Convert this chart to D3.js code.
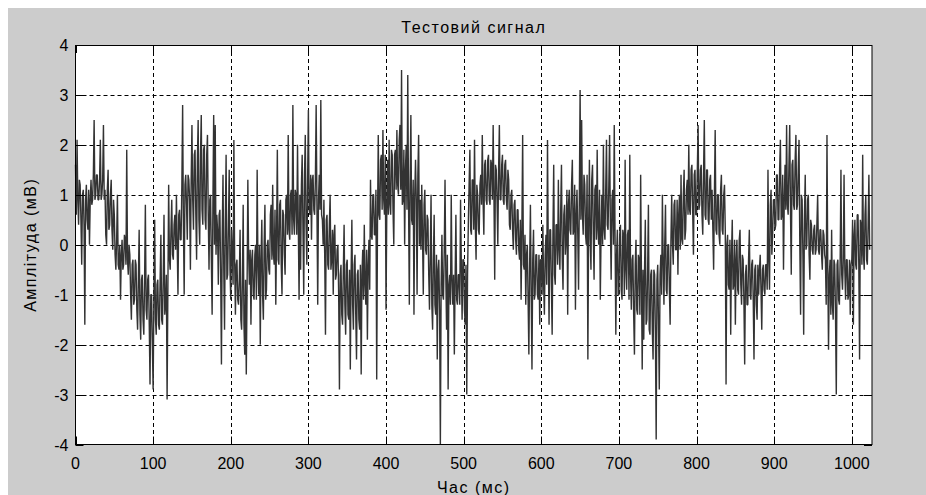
<!DOCTYPE html>
<html>
<head>
<meta charset="utf-8">
<script src="https://cdn.jsdelivr.net/npm/d3@7/dist/d3.min.js"></script>
<style>
  html, body { margin: 0; padding: 0; background: #ffffff; }
  svg { display: block; }
  text { font-family: "Liberation Sans", Arial, sans-serif; fill: #000; }
</style>
</head>
<body>
<div id="chart"></div>
<script>
// ---- data ----
const chartTitle = "Тестовий сигнал";
const xLabel = "Час (мс)";
const yLabel = "Амплітуда (мВ)";
const xTicks = [0, 100, 200, 300, 400, 500, 600, 700, 800, 900, 1000];
const yTicks = [-4, -3, -2, -1, 0, 1, 2, 3, 4];
const sampleStepMs = 1;
// amplitude (mV), one value per ms, starting at 0 ms (20 values per row)
const amplitude = [
  1.6, 0.6, 2.1, 0.9, 0.4, 1.3, 1.2, 0.5, -0.4, 1.0, 1.1, 0.4, -1.6, 0.9, 1.2, 0.5, 0.3, 1.1, 0.0, 0.9,
  1.3, 0.8, 0.9, 1.4, 2.5, 0.9, 1.0, 1.4, 1.4, 0.9, 0.9, 1.3, 2.1, 0.9, 1.0, 1.3, 2.4, 0.9, 1.1, 0.2,
  0.0, 1.1, 1.5, 0.3, 0.4, 1.0, 1.3, 0.3, -0.1, 0.9, 0.6, -0.2, -0.5, 0.1, 1.0, -0.4, -0.5, 0.0, -1.1, -0.2,
  0.1, -0.5, -0.4, 0.2, 0.1, -0.4, 1.9, -0.3, -0.6, 0.0, -0.2, -1.0, -1.5, -0.4, -0.3, -1.2, -1.1, -0.3, -0.4, -1.3,
  -1.7, -0.7, 0.3, -1.4, -1.9, -0.7, -0.6, -1.5, -1.8, -0.7, 0.8, -1.3, -1.5, -0.7, -0.6, -1.6, -2.8, -1.0, -1.0, -2.0,
  -2.9, -1.0, 0.5, -1.5, -1.8, -0.8, -0.7, -1.6, -1.7, -0.7, 0.2, -1.5, -1.6, -0.7, 0.6, -1.4, -1.2, -0.6, -3.1, -0.9,
  1.2, -0.3, -0.5, 0.3, 0.9, -0.2, -0.3, 0.4, 0.6, -0.1, 1.0, 0.0, -1.0, 0.6, 0.7, 0.1, 0.1, 1.2, 2.8, 0.4,
  -1.0, 1.2, 1.4, 0.8, 0.1, 1.4, 1.3, 0.9, -0.5, 1.3, 2.4, 0.9, 0.3, 1.8, 1.9, 0.6, -0.3, 1.7, 2.5, 0.5,
  0.0, 1.8, 2.6, 0.7, 0.4, 1.9, 2.0, 0.5, 0.3, 1.8, 2.2, 0.6, -0.5, 0.9, 1.0, -0.3, -1.4, 0.8, 2.6, 0.0,
  2.4, -0.2, 0.6, 0.3, -0.8, 0.6, 0.7, -0.6, -2.4, 0.2, 1.4, -0.5, -1.7, 0.5, 1.8, -0.7, -0.6, 0.4, 1.5, -0.5,
  -1.1, 0.3, -0.2, -0.8, 2.1, -0.3, -1.4, -0.4, -0.3, -1.1, -1.2, -0.7, 0.3, -1.5, -1.7, -0.7, 0.8, -1.6, -2.2, -0.7,
  -2.6, -0.9, 1.3, -0.2, -0.8, -0.1, -1.6, -0.3, -0.1, -1.0, -1.1, -0.2, 0.0, -1.1, 1.5, -0.4, -1.0, 0.0, -2.0, -0.3,
  0.5, -1.0, -1.5, 0.0, 0.8, -1.1, -0.9, 0.0, 0.1, -0.5, -0.6, 0.6, 0.8, -0.3, 1.2, -0.2, -0.4, 0.7, -1.2, 0.2,
  1.9, -0.3, -0.4, 0.8, 0.9, -0.4, -1.0, 0.7, 0.6, -0.2, -0.6, 0.9, 1.0, 0.2, 2.2, 0.3, 0.1, 1.0, 1.1, 0.2,
  2.8, 0.5, 0.2, 1.1, 1.0, 0.2, 2.0, 0.4, -1.1, 1.0, -0.5, 1.2, 1.8, 0.3, -1.0, 1.4, 2.2, 0.4, -0.4, 1.3,
  2.7, 0.7, 0.6, 1.4, 0.1, 1.3, 1.4, 0.7, 0.6, 1.3, 2.8, 0.8, -1.2, 0.9, 1.4, 0.7, 2.9, 0.6, 0.5, 0.0,
  0.9, -0.2, -1.8, 0.5, 0.6, -0.4, -0.5, 0.4, 1.0, -0.5, -0.3, 0.3, -1.0, 0.2, 0.4, -0.7, -0.6, -0.1, 0.0, -1.0,
  -2.9, -0.6, -0.4, -1.4, -1.6, -0.5, 0.4, -1.2, -1.8, -0.4, -0.3, -1.4, -1.5, -0.5, -2.5, -0.6, 0.5, -1.2, -1.7, -0.4,
  -0.2, -1.4, -2.3, -0.6, -0.5, -1.5, -1.7, -0.4, -2.6, -0.6, -0.1, -1.1, 0.4, -0.8, -1.2, -0.1, -1.9, -0.4, 0.1, -0.9,
  1.3, 0.2, 0.1, 1.0, 1.0, 0.2, 0.2, 1.1, -2.7, 0.4, 2.2, 0.6, 0.5, 1.7, 1.8, 0.7, 2.3, 0.9, 0.6, 1.8,
  -1.3, 0.7, 1.7, 0.6, 2.1, 0.8, 0.6, 1.9, 1.8, 0.7, 0.0, 1.8, 1.9, 1.1, 2.3, 1.2, 1.0, 2.1, 2.4, 1.1,
  3.5, 0.8, 0.9, 1.9, 0.0, 1.5, 2.0, 0.7, 3.4, 0.9, -1.2, 1.2, 2.6, 0.5, 0.4, 1.3, -1.4, 1.0, 1.7, 0.9,
  -1.0, 1.4, 2.2, 0.0, 0.9, -0.1, 1.2, 0.2, -1.0, 0.8, 1.1, -0.1, -0.2, 0.6, 0.5, -0.6, -1.3, -0.2, 1.0, -1.2,
  -1.7, -0.3, 0.6, -1.2, -1.4, -0.2, -2.3, -0.5, -0.3, -1.3, -4.0, -0.8, 0.2, -1.0, -1.1, -0.1, 1.3, -0.6, -1.7, -0.2,
  -2.9, -0.8, -0.6, -1.2, 1.0, -0.7, -1.2, -0.6, -2.2, -0.7, 0.6, -1.1, -1.2, -0.6, -0.6, -1.2, 0.9, -0.4, -1.5, -0.3,
  -0.3, -1.3, -1.6, -0.4, -3.0, -0.6, 0.4, 1.2, 1.9, 0.3, 0.2, 1.3, 1.3, 0.3, 2.1, 0.4, -0.3, 1.2, 1.0, 0.3,
  0.2, 1.2, 1.4, 0.8, 2.2, 0.9, 0.2, 1.6, 1.7, 0.9, 0.8, 1.7, 1.8, 0.9, 0.8, 1.7, 1.6, 0.9, 2.4, 1.0,
  -0.7, 1.6, 1.5, 0.9, 0.0, 1.5, 2.4, 0.9, 0.9, 1.6, 1.8, 0.9, 0.8, 1.6, 1.7, 0.9, 0.7, 1.5, 1.3, 0.4,
  0.3, 1.0, 1.1, 0.3, -0.1, 0.8, 0.9, 0.1, -0.2, 0.7, 0.7, -0.1, -0.3, 0.5, -1.1, 0.3, 2.2, -0.4, -0.5, 0.2,
  -1.2, -0.2, 0.0, -1.1, -2.2, -0.4, 0.8, -1.0, -2.5, -0.3, 0.3, -1.1, -1.0, -0.2, -0.2, -1.0, -1.1, -0.2, -1.6, -0.3,
  -0.3, -1.0, 0.4, -0.8, -1.4, -0.2, 0.2, -0.8, 2.1, -0.1, -1.6, 0.3, 0.3, -0.8, -1.8, 0.2, 1.6, -0.6, -0.8, 0.4,
  0.4, -0.4, 1.3, -0.1, -0.5, 0.7, 1.6, -0.3, -0.9, 0.6, 0.8, -0.2, 0.1, 1.1, -1.4, 0.8, 1.1, 0.3, 0.2, 1.2,
  1.7, 0.2, 0.3, 1.2, -1.3, 0.6, 1.1, 0.2, -0.9, 0.9, 3.1, 0.5, 2.5, 0.6, 0.2, 1.4, 1.2, 0.2, 0.0, 1.4,
  -2.3, 0.4, 1.7, 0.1, -0.5, 1.3, 1.6, 0.2, -0.7, 1.1, 1.2, 0.1, 1.9, 0.3, 0.0, 1.1, -1.1, 0.2, 1.0, 0.0,
  2.0, 0.3, 0.1, 1.1, 2.1, 0.4, 0.3, 1.2, 2.2, 0.4, -0.7, 0.9, 1.1, 0.0, 2.4, 0.2, -1.8, -0.2, 0.3, -1.0,
  -1.0, 0.2, 0.4, -0.9, -1.1, 0.3, 0.2, -1.0, 1.7, -0.5, -0.9, 0.2, 0.3, -1.1, 1.8, -0.6, -1.3, -0.3, -0.2, -1.4,
  -2.2, -0.4, 0.1, -1.3, -1.4, -0.2, -0.3, -1.4, 1.4, -0.6, -2.5, -0.5, -1.9, -0.5, 0.5, -1.6, -1.5, -0.5, 0.8, -1.7,
  -1.8, -0.6, -0.5, -1.7, -2.3, -0.5, -0.6, -1.8, -3.9, -0.7, -0.4, -1.6, -2.9, -0.6, -0.2, -1.0, 1.0, -0.3, -1.2, 0.0,
  0.8, -0.9, -1.0, 0.0, 0.0, -0.9, -1.6, 0.1, 1.0, 0.0, -0.4, 0.8, 0.9, -0.1, -0.1, 0.9, -0.6, 0.6, 1.0, -0.1,
  1.4, 0.1, 0.0, 1.0, 1.5, 0.1, 0.3, 1.1, 1.3, 0.6, 2.0, 0.7, 0.6, 1.5, 1.6, 0.7, -0.2, 1.4, 1.5, 0.6,
  0.6, 1.5, 2.4, 0.7, 0.8, 1.5, 1.6, 0.6, 0.2, 1.4, 2.5, 0.6, 0.5, 1.5, 1.5, 0.5, 0.4, 1.3, 1.4, 0.5,
  1.1, 0.3, -0.5, 1.0, 2.3, 0.3, 0.2, 1.0, 1.0, 0.2, 0.0, 1.1, 1.4, 0.3, 0.2, 1.0, 1.2, 0.3, -2.8, 0.0,
  0.2, -0.8, -0.9, 0.1, -1.8, -0.2, 0.5, -0.9, -0.8, 0.1, -1.6, -0.3, 0.1, -0.9, -1.0, 0.1, 0.3, -0.8, -1.2, -0.2,
  -0.3, -1.1, -2.4, -0.6, -0.4, -1.2, -1.2, -0.3, 0.3, -1.0, -1.1, -0.4, -0.3, -1.1, -2.3, -0.5, -0.4, -1.2, -1.5, -0.4,
  -1.0, -0.5, -0.2, -0.9, -1.7, -0.5, -0.4, -0.9, -1.0, -0.4, -0.4, -0.9, 1.5, -0.3, -0.9, 0.8, 1.1, -0.2, 0.2, 0.9,
  0.9, 0.3, 0.4, 1.4, 1.4, 0.5, 0.5, 1.5, 2.1, 0.5, 0.6, 1.4, -0.5, 0.9, 1.6, 0.7, 2.4, 0.8, 0.6, 1.6,
  2.4, 0.7, -0.6, 1.6, 1.7, 0.8, 0.7, 1.7, 2.2, 0.7, 0.8, 1.5, 2.1, 0.0, -1.4, 1.0, 0.9, -0.2, -1.8, 0.6,
  1.4, -0.1, 0.0, 0.9, 1.0, -0.2, -0.7, 0.5, 0.4, -0.1, -0.2, 0.3, 0.4, -0.2, -0.1, 0.4, 1.0, -0.1, -0.2, 0.3,
  0.3, -0.2, -0.5, 0.3, 0.2, -0.2, -0.3, -1.2, 2.2, -0.4, -2.1, -0.6, -0.3, -1.4, 0.3, -1.2, -1.5, -0.3, -0.4, -1.4,
  -3.0, -0.4, -0.3, -1.1, -1.2, -0.3, 1.5, -0.6, -0.9, -0.3, 1.4, -0.5, -1.1, -0.3, -0.3, -1.1, -1.0, -0.3, -1.4, -0.4,
  -0.3, 0.5, -1.6, 0.2, 0.5, -0.4, -0.5, 0.6, 0.6, -0.4, -2.3, 0.5, 0.4, -0.4, 1.8, -0.2, -0.5, 0.6, 1.0, -0.3,
  -0.4, 0.4, 1.4, -0.1
];

// ---- layout ----
const W = 926, H = 495;
const plot = { left: 75.5, right: 872, top: 45, bottom: 444.5 };

const svg = d3.select("#chart").append("svg")
  .attr("width", W).attr("height", H);

svg.append("rect").attr("x", 0).attr("y", 0).attr("width", W).attr("height", H).attr("fill", "#ffffff");
svg.append("rect").attr("x", 8).attr("y", 8).attr("width", W - 8).attr("height", H - 8).attr("fill", "#cccccc");

const x = d3.scaleLinear().domain([0, 1026]).range([plot.left, plot.right]);
const y = d3.scaleLinear().domain([-4, 4]).range([plot.bottom, plot.top]);

svg.append("rect")
  .attr("x", plot.left).attr("y", plot.top)
  .attr("width", plot.right - plot.left).attr("height", plot.bottom - plot.top)
  .attr("fill", "#ffffff");

const px = v => Math.round(x(v)) + 0.5;
const py = v => Math.round(y(v)) + 0.5;

// grid
const grid = svg.append("g").attr("stroke", "#000").attr("stroke-width", 1).attr("stroke-dasharray", "4,3");
grid.selectAll("line.gx").data(xTicks.filter(d => d > 0)).enter().append("line")
  .attr("x1", d => px(d)).attr("x2", d => px(d))
  .attr("y1", plot.top).attr("y2", plot.bottom);
grid.selectAll("line.gy").data(yTicks.filter(d => d > -4 && d < 4)).enter().append("line")
  .attr("y1", d => py(d)).attr("y2", d => py(d))
  .attr("x1", plot.left).attr("x2", plot.right);

// signal
const line = d3.line()
  .x((d, i) => x(i * sampleStepMs))
  .y(d => y(d));
svg.append("path")
  .datum(amplitude)
  .attr("d", line)
  .attr("fill", "none")
  .attr("stroke", "#333333")
  .attr("stroke-width", 1.4)
  .attr("stroke-linejoin", "bevel");

// frame
svg.append("rect")
  .attr("x", plot.left).attr("y", plot.top + 0.5)
  .attr("width", plot.right - plot.left).attr("height", plot.bottom - plot.top - 0.5)
  .attr("fill", "none").attr("stroke", "#000").attr("stroke-width", 1);

// inward ticks on all four sides
const tl = 8;
const ticks = svg.append("g").attr("stroke", "#000").attr("stroke-width", 1);
xTicks.forEach(d => {
  ticks.append("line").attr("x1", px(d)).attr("x2", px(d)).attr("y1", plot.bottom).attr("y2", plot.bottom - tl);
  ticks.append("line").attr("x1", px(d)).attr("x2", px(d)).attr("y1", plot.top).attr("y2", plot.top + tl);
});
yTicks.forEach(d => {
  ticks.append("line").attr("y1", py(d)).attr("y2", py(d)).attr("x1", plot.left).attr("x2", plot.left + tl);
  ticks.append("line").attr("y1", py(d)).attr("y2", py(d)).attr("x1", plot.right).attr("x2", plot.right - tl);
});

// tick labels
svg.append("g").selectAll("text").data(xTicks).enter().append("text")
  .attr("x", d => x(d)).attr("y", plot.bottom + 24)
  .attr("text-anchor", "middle").attr("font-size", 16)
  .text(d => d);
svg.append("g").selectAll("text").data(yTicks).enter().append("text")
  .attr("x", plot.left - 7).attr("y", d => y(d) + 6)
  .attr("text-anchor", "end").attr("font-size", 16)
  .text(d => d);

// title and axis labels
const labelStyle = sel => sel.attr("text-anchor", "middle").attr("font-size", 16).attr("letter-spacing", "1.5px");
svg.append("text").attr("x", (plot.left + plot.right) / 2).attr("y", 33)
  .call(labelStyle).text(chartTitle);
svg.append("text").attr("x", (plot.left + plot.right) / 2).attr("y", 493)
  .call(labelStyle).text(xLabel);
svg.append("text")
  .attr("transform", `translate(36, ${(plot.top + plot.bottom) / 2}) rotate(-90)`)
  .call(labelStyle).text(yLabel);
</script>
</body>
</html>
